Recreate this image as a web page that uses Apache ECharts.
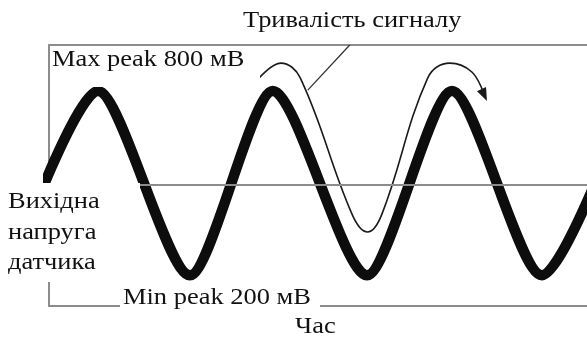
<!DOCTYPE html>
<html>
<head>
<meta charset="utf-8">
<script src="https://cdn.jsdelivr.net/npm/echarts@6/dist/echarts.min.js"></script>
<style>
  html, body { margin: 0; padding: 0; background: #fff; }
  #chart { width: 587px; height: 337px; }
</style>
</head>
<body>
<div id="chart"></div>
<script>
// вихідна напруга датчика: піки та западини, час (умовні од.) / мВ
var waveTime = [-7.6, 9.1, 26.2, 41.6, 59.1, 74.9, 91.6, 108.3];
var waveMv = [200, 800, 200, 800, 200, 800, 200, 800];

// тонка лінія "тривалість сигналу" (від піку до піку)
var spanTime = [38.7, 43.1, 46.7, 56.3, 59.2, 61.9, 70.4, 74.5, 78.6, 80.9];
var spanMv = [836, 891, 843, 400, 341, 400, 843, 891, 862, 787];

// виноска від підпису до лінії
var pointerTime = [55.9, 48.1];
var pointerMv = [950, 803];

var midLevel = 495;
var axisMin = 100;
var axisMax = 950;

var titleText = "Тривалість сигналу";
var maxText = "Max peak 800 мВ";
var minText = "Min peak 200 мВ";
var yNameLines = ["Вихідна", "напруга", "датчика"];
var xNameText = "Час";

function zip(xs, ys) {
  var out = [];
  for (var i = 0; i < xs.length; i++) out.push([xs[i], ys[i]]);
  return out;
}

var spanData = zip(spanTime, spanMv);
var last = spanData.pop();
spanData.push({
  value: last,
  symbol: "triangle",
  symbolSize: [10, 13],
  symbolRotate: 205,
  itemStyle: { color: "#1a1a1a" }
});

var frameStyle = { color: "#8c8c8c", width: 2 };
var font = "23px 'Liberation Serif', 'Times New Roman', serif";
var stretch = 1.15;

function label(text, x, y) {
  return {
    type: "text",
    x: x,
    y: y,
    scaleX: stretch,
    z: 101,
    style: {
      text: text,
      font: font,
      fill: "#111",
      textAlign: "left",
      textVerticalAlign: "middle"
    }
  };
}
function box(x, y, w, h) {
  return {
    type: "rect",
    z: 100,
    shape: { x: x, y: y, width: w, height: h },
    style: { fill: "#fff" }
  };
}
function bareAxis(extra) {
  var a = {
    type: "value",
    axisLine: { show: true, onZero: false, lineStyle: frameStyle },
    axisTick: { show: false },
    axisLabel: { show: false },
    splitLine: { show: false }
  };
  for (var k in extra) a[k] = extra[k];
  return a;
}

var myChart = echarts.init(document.getElementById("chart"));
var option = {
  animation: false,
  grid: { left: 49, right: 0, top: 45, bottom: 31 },
  xAxis: [
    bareAxis({ min: 0, max: 100 }),
    bareAxis({ min: 0, max: 100, position: "top" })
  ],
  yAxis: bareAxis({ min: axisMin, max: axisMax }),
  series: [
    {
      name: "сигнал",
      type: "line",
      data: zip(waveTime, waveMv),
      smooth: 0.25,
      smoothMonotone: "x",
      symbol: "none",
      lineStyle: { color: "#0d0d0d", width: 10.5 },
      markLine: {
        silent: true,
        symbol: "none",
        label: { show: false },
        lineStyle: { color: "#8c8c8c", width: 2, type: "solid" },
        data: [{ yAxis: midLevel }]
      },
      z: 2
    },
    {
      name: "тривалість",
      type: "line",
      data: spanData,
      smooth: 0.4,
      symbol: "none",
      lineStyle: { color: "#1a1a1a", width: 1.6 },
      z: 3
    },
    {
      name: "виноска",
      type: "line",
      data: zip(pointerTime, pointerMv),
      symbol: "none",
      lineStyle: { color: "#333", width: 1.3 },
      z: 3
    }
  ],
  graphic: [
    box(240, 0, 262, 44),
    box(50, 47, 210, 40),
    box(0, 183, 140, 99),
    box(120, 289, 200, 27),
    label(titleText, 243, 21),
    label(maxText, 52, 60),
    label(yNameLines[0], 8, 202),
    label(yNameLines[1], 8, 233),
    label(yNameLines[2], 8, 263),
    label(minText, 123, 298),
    label(xNameText, 295, 327)
  ]
};
myChart.setOption(option);
window.addEventListener("resize", function () {
  myChart.resize();
});
</script>
</body>
</html>
